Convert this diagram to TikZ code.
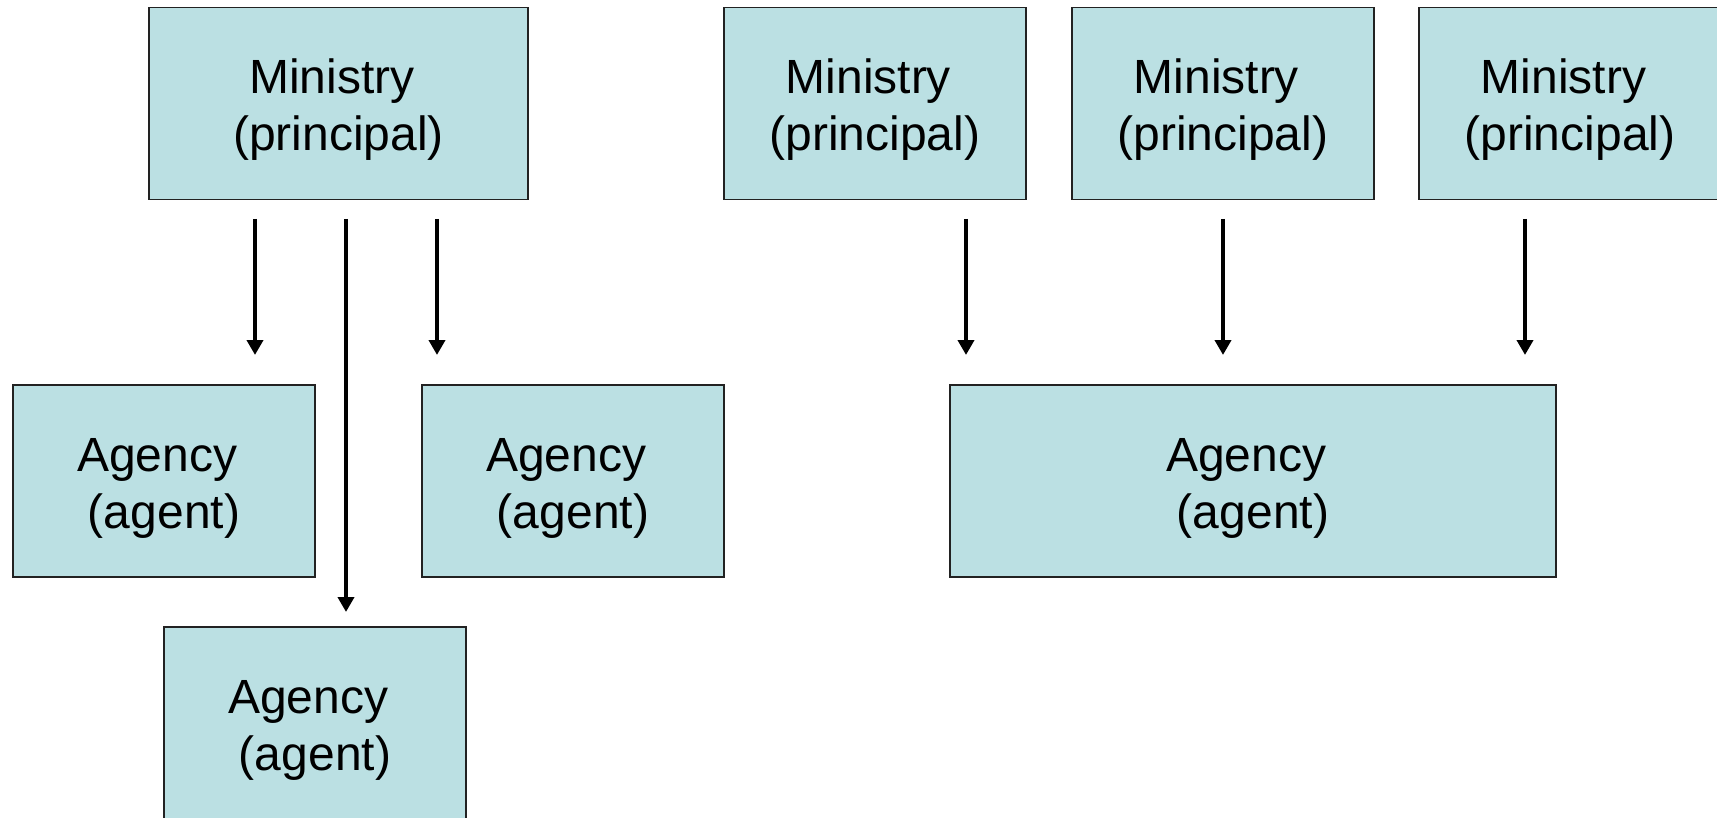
\documentclass[tikz,border=0pt]{standalone}
\usepackage{fontspec}
\setmainfont{Liberation Sans}
\usetikzlibrary{arrows.meta}
\definecolor{boxfill}{HTML}{BBE0E3}
\definecolor{boxline}{HTML}{222222}
\newcommand{\lowr}{\rule{0pt}{23.7pt}}
\begin{document}
\begin{tikzpicture}[x=0.5pt,y=-0.5pt,
  box/.style={draw=boxline, fill=boxfill, line width=0.75pt, inner sep=0pt, outer sep=0pt,
    minimum height=96pt, align=center, font=\fontsize{24}{28.5}\selectfont},
  narrow/.style={box, minimum width=151pt},
  arr/.style={line width=2pt, -{Triangle[width=8pt,length=7.5pt]}}]
\clip (0,0) rectangle (1717,818);
\fill[white] (0,0) rectangle (1717,818);
% ministries
\node[box, minimum width=189.5pt] (m1) at (338.5,103.5) {\lowr Ministry\hspace*{0.278em}\\(principal)};
\node[narrow] (m2) at (875,103.5) {\lowr Ministry\hspace*{0.278em}\\(principal)};
\node[narrow] (m3) at (1223,103.5) {\lowr Ministry\hspace*{0.278em}\\(principal)};
\node[narrow] (m4) at (1570,103.5) {\lowr Ministry\hspace*{0.278em}\\(principal)};
% agencies
\node[narrow] (a1) at (164,481) {\lowr Agency\hspace*{0.278em}\\(agent)};
\node[narrow] (a2) at (573,481) {\lowr Agency\hspace*{0.278em}\\(agent)};
\node[narrow] (a3) at (315,723) {\lowr Agency\hspace*{0.278em}\\(agent)};
\node[box, minimum width=303pt] (a4) at (1253,481) {\lowr Agency\hspace*{0.278em}\\(agent)};
% arrow endpoints
\coordinate (s1) at (255,219); \coordinate (e1) at (255,355);
\coordinate (s2) at (346,219); \coordinate (e2) at (346,612);
\coordinate (s3) at (437,219); \coordinate (e3) at (437,355);
\coordinate (s4) at (966,219); \coordinate (e4) at (966,355);
\coordinate (s5) at (1223,219); \coordinate (e5) at (1223,355);
\coordinate (s6) at (1525,219); \coordinate (e6) at (1525,355);
\foreach \i in {1,...,6} {\draw[arr] (s\i) -- (e\i);}
\end{tikzpicture}
\end{document}
